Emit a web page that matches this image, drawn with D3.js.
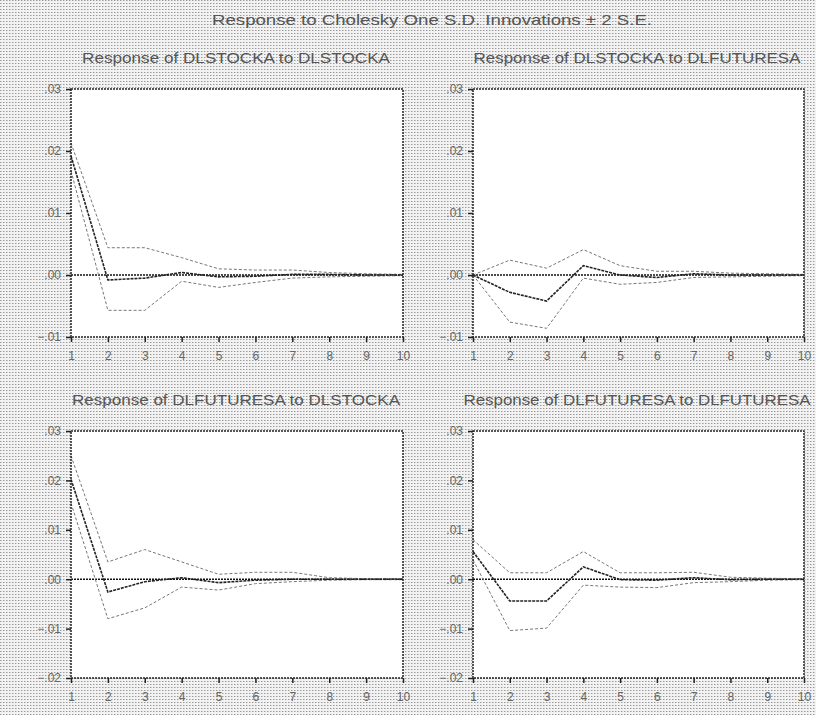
<!DOCTYPE html>
<html>
<head>
<meta charset="utf-8">
<script src="https://cdn.jsdelivr.net/npm/d3@7"></script>
<style>
  body { margin: 0; background: #fff; }
  svg { display: block; font-family: "Liberation Sans", Arial, sans-serif; }
</style>
</head>
<body>
<svg id="svg"></svg>
<script>
// Impulse responses, 10 periods, +/- 2 S.E. bands

const periods = [1, 2, 3, 4, 5, 6, 7, 8, 9, 10];

// DLSTOCKA to DLSTOCKA
const respSS = [0.0192, -0.0008, -0.0005, 0.0004, -0.0003, -0.0002, 0.0001, 0.0001, 0.0, 0.0];
const upSS   = [0.0213, 0.0044, 0.0044, 0.0028, 0.0010, 0.0008, 0.0008, 0.0004, 0.0002, 0.0001];
const loSS   = [0.0168, -0.0057, -0.0057, -0.0010, -0.0020, -0.0012, -0.0005, -0.0003, -0.0002, -0.0001];

// DLSTOCKA to DLFUTURESA
const respSF = [0.0, -0.0028, -0.0042, 0.0015, 0.0, -0.0004, 0.0002, 0.0, 0.0, 0.0];
const upSF   = [0.0, 0.0024, 0.0011, 0.0041, 0.0015, 0.0006, 0.0006, 0.0003, 0.0002, 0.0001];
const loSF   = [0.0, -0.0076, -0.0086, -0.0005, -0.0015, -0.0012, -0.0004, -0.0003, -0.0002, -0.0001];

// DLFUTURESA to DLSTOCKA
const respFS = [0.0202, -0.0026, -0.0005, 0.0003, -0.0007, -0.0002, 0.0, 0.0, 0.0, 0.0];
const upFS   = [0.0250, 0.0035, 0.0060, 0.0035, 0.0010, 0.0014, 0.0014, 0.0003, 0.0001, 0.0001];
const loFS   = [0.0154, -0.0080, -0.0058, -0.0016, -0.0022, -0.0009, -0.0005, -0.0002, -0.0001, -0.0001];

// DLFUTURESA to DLFUTURESA
const respFF = [0.0056, -0.0044, -0.0044, 0.0025, -0.0001, -0.0002, 0.0003, -0.0001, 0.0, 0.0];
const upFF   = [0.0080, 0.0013, 0.0013, 0.0056, 0.0013, 0.0013, 0.0014, 0.0004, 0.0002, 0.0001];
const loFF   = [0.0039, -0.0104, -0.0099, -0.0012, -0.0016, -0.0017, -0.0007, -0.0005, -0.0002, -0.0001];

const ticksTop = [-0.01, 0, 0.01, 0.02, 0.03];
const ticksBottom = [-0.02, -0.01, 0, 0.01, 0.02, 0.03];

const mainTitle = "Response to Cholesky One S.D. Innovations \u00b1 2 S.E.";

const panels = [
  { title: "Response of DLSTOCKA to DLSTOCKA", resp: respSS, up: upSS, lo: loSS, ticks: ticksTop, col: 0, row: 0, tw: 308 },
  { title: "Response of DLSTOCKA to DLFUTURESA", resp: respSF, up: upSF, lo: loSF, ticks: ticksTop, col: 1, row: 0, tw: 327 },
  { title: "Response of DLFUTURESA to DLSTOCKA", resp: respFS, up: upFS, lo: loFS, ticks: ticksBottom, col: 0, row: 1, tw: 328 },
  { title: "Response of DLFUTURESA to DLFUTURESA", resp: respFF, up: upFF, lo: loFF, ticks: ticksBottom, col: 1, row: 1, tw: 347 },
];

const width = 816;
const height = 715;

// plot frames (left/right per column, top/bottom per row)
const colX = [[71, 403], [473, 804]];
const rowY = [[89, 337], [431, 678]];
const titleX = [236, 637];

const svg = d3.select("#svg").attr("width", width).attr("height", height);

// dithered grey backdrop
const defs = svg.append("defs");
const pat = defs.append("pattern")
  .attr("id", "dots")
  .attr("width", 3)
  .attr("height", 3)
  .attr("patternUnits", "userSpaceOnUse");
pat.append("rect").attr("width", 3).attr("height", 3).attr("fill", "#f2f2f2");
pat.append("rect").attr("x", 0).attr("y", 0).attr("width", 1).attr("height", 1).attr("fill", "#999");
pat.append("rect").attr("x", 1).attr("y", 0).attr("width", 1).attr("height", 1).attr("fill", "#cacaca");

svg.append("rect")
  .attr("width", width)
  .attr("height", height)
  .attr("fill", "url(#dots)");

svg.append("text")
  .attr("x", 432)
  .attr("y", 25)
  .attr("text-anchor", "middle")
  .attr("fill", "#555")
  .attr("textLength", 440)
  .attr("lengthAdjust", "spacingAndGlyphs")
  .style("font-size", "15px")
  .text(mainTitle);

const fmt = (d) => {
  if (d === 0) return ".00";
  const s = d3.format(".2f")(d);
  return s.replace("0.", ".");
};

panels.forEach((p) => {
  const [x0, x1] = colX[p.col];
  const [y0, y1] = rowY[p.row];

  const x = d3.scaleLinear().domain([1, 10]).range([x0, x1]);
  const y = d3.scaleLinear().domain(d3.extent(p.ticks)).range([y1, y0]);

  const g = svg.append("g");

  g.append("rect")
    .attr("x", x0)
    .attr("y", y0)
    .attr("width", x1 - x0)
    .attr("height", y1 - y0)
    .attr("fill", "#fff");

  g.append("text")
    .attr("x", titleX[p.col])
    .attr("y", p.row === 0 ? 63 : 405)
    .attr("text-anchor", "middle")
    .attr("fill", "#555")
    .attr("textLength", p.tw)
    .attr("lengthAdjust", "spacingAndGlyphs")
    .style("font-size", "15px")
    .text(p.title);

  // zero line
  g.append("line")
    .attr("x1", x0)
    .attr("x2", x1)
    .attr("y1", y(0))
    .attr("y2", y(0))
    .attr("stroke", "#111")
    .attr("stroke-width", 1.5)
    .attr("stroke-dasharray", "2,1");

  const line = d3.line()
    .x((d, i) => x(periods[i]))
    .y((d) => y(d));

  g.append("path")
    .datum(p.up)
    .attr("d", line)
    .attr("fill", "none")
    .attr("stroke", "#777")
    .attr("stroke-width", 1)
    .attr("stroke-dasharray", "3,2");

  g.append("path")
    .datum(p.lo)
    .attr("d", line)
    .attr("fill", "none")
    .attr("stroke", "#777")
    .attr("stroke-width", 1)
    .attr("stroke-dasharray", "3,2");

  g.append("path")
    .datum(p.resp)
    .attr("d", line)
    .attr("fill", "none")
    .attr("stroke", "#222")
    .attr("stroke-width", 1.6)
    .attr("stroke-dasharray", "3,1");

  // axes
  const yAxis = d3.axisLeft(y).tickValues(p.ticks).tickSize(5).tickPadding(5).tickFormat(fmt);
  const xAxis = d3.axisBottom(x).tickValues(periods).tickSize(5).tickPadding(9);

  const gy = g.append("g").attr("transform", `translate(${x0},0)`).call(yAxis);
  const gx = g.append("g").attr("transform", `translate(0,${y1})`).call(xAxis);

  [gy, gx].forEach((ax) => {
    ax.select(".domain").remove();
    ax.selectAll("line").attr("stroke", "#222").attr("stroke-width", 1.5);
    ax.selectAll("text").attr("fill", "#666").style("font-size", "12px");
  });

  // frame
  g.append("rect")
    .attr("x", x0)
    .attr("y", y0)
    .attr("width", x1 - x0)
    .attr("height", y1 - y0)
    .attr("fill", "none")
    .attr("stroke", "#222")
    .attr("stroke-width", 1.5)
    .attr("stroke-dasharray", "2,1");
});
</script>
</body>
</html>
